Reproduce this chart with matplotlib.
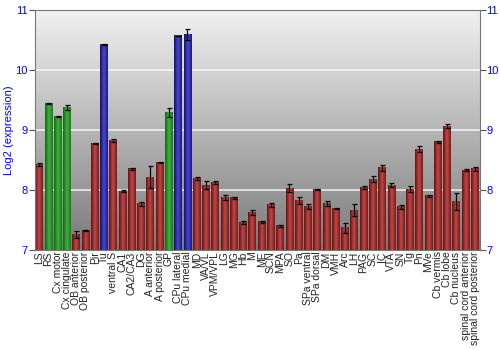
import numpy as np
import matplotlib
matplotlib.use("Agg")
import matplotlib.pyplot as plt
from matplotlib.colors import LinearSegmentedColormap

plt.rcParams["font.family"] = ["Liberation Sans", "DejaVu Sans"]

regions = ["LS", "RS", "Cx motor", "Cx cingulate", "OB anterior", "OB posterior",
           "Pir", "Tu", "ventral S", "CA1", "CA2/CA3", "DG", "A anterior",
           "A posterior", "GP", "CPu lateral", "CPu medial", "MD", "VA/VL",
           "VPM/VPL", "LG", "MG", "Hb", "M", "ME", "SCN", "MPA", "SO", "Pa",
           "SPa ventral", "SPa dorsal", "DM", "VMH", "Arc", "LH", "PAG", "SC",
           "IC", "VTA", "SN", "Tg", "Pn", "MVe", "Cb vermis", "Cb lobe",
           "Cb nucleus", "spinal cord anterior", "spinal cord posterior"]
values = [8.42, 9.44, 9.22, 9.37, 7.26, 7.32, 8.77, 10.42, 8.82, 7.98, 8.35,
          7.77, 8.21, 8.46, 9.29, 10.56, 10.59, 8.19, 8.08, 8.12, 7.87, 7.87,
          7.46, 7.62, 7.47, 7.75, 7.40, 8.03, 7.82, 7.73, 8.00, 7.77, 7.69,
          7.37, 7.66, 8.04, 8.18, 8.37, 8.08, 7.72, 8.01, 8.68, 7.90, 8.80,
          9.06, 7.81, 8.33, 8.35]
errors = [0.03, 0.01, 0.005, 0.04, 0.06, 0.01, 0.005, 0.01, 0.03, 0.02, 0.02,
          0.03, 0.18, 0.01, 0.07, 0.005, 0.09, 0.02, 0.06, 0.02, 0.04, 0.02,
          0.02, 0.04, 0.02, 0.03, 0.02, 0.07, 0.06, 0.04, 0.01, 0.04, 0.005,
          0.08, 0.1, 0.02, 0.05, 0.05, 0.04, 0.03, 0.05, 0.05, 0.02, 0.02,
          0.03, 0.14, 0.01, 0.03]
groups = ["r", "g", "g", "g", "r", "r", "r", "b", "r", "r", "r", "r", "r", "r",
          "g", "b", "b"] + ["r"] * 31

palette = {
    "r": ["#6a1010", "#c04848", "#7a1a1a"],
    "g": ["#106a10", "#40b040", "#1a7a1a"],
    "b": ["#10106a", "#4848c8", "#1a1a8a"],
}

fig = plt.figure(figsize=(5, 3.5), dpi=100)
ax = fig.add_axes([0.069, 0.2857, 0.89, 0.687])
ymin, ymax = 7, 11
n = len(regions)
x = np.arange(n)

# grey background gradient
bg = LinearSegmentedColormap.from_list("bg", ["#7a7a7a", "#f2f2f2"])
ax.imshow(np.linspace(0, 1, 256).reshape(-1, 1), cmap=bg, origin="lower",
          extent=[-0.5, n - 0.5, ymin, ymax], aspect="auto", zorder=0)
for yv in [8, 9, 10]:
    ax.axhline(yv, color="white", lw=1.2, alpha=0.8, zorder=1)

w = 0.84
grad = np.linspace(0, 1, 32).reshape(1, -1)
for xi, v, g in zip(x, values, groups):
    cm = LinearSegmentedColormap.from_list("c" + g, palette[g])
    ax.imshow(grad, cmap=cm, extent=[xi - w / 2, xi + w / 2, ymin, v],
              aspect="auto", zorder=2, interpolation="bilinear")
ax.errorbar(x, values, yerr=errors, fmt="none", ecolor="black", elinewidth=0.9,
            capsize=1.8, capthick=0.9, zorder=3)

ax.set_xlim(-0.5, n - 0.5)
ax.set_ylim(ymin, ymax)
ax.set_xticks(x)
ax.set_xticklabels(regions, rotation=90, fontsize=7.5, color="#222222")
ax.tick_params(axis="x", length=0, pad=1)
ax.set_yticks([7, 8, 9, 10, 11])
ax.tick_params(axis="y", colors="#555555", labelcolor="blue", labelsize=8,
               length=4, width=0.8, pad=1, left=True, right=True,
               labelleft=True, labelright=True)
ax.set_ylabel("Log2 (expression)", color="blue", fontsize=8, labelpad=1)
for s in ax.spines.values():
    s.set_color("#777777")
    s.set_linewidth(0.8)

fig.savefig("out.png", dpi=100)
